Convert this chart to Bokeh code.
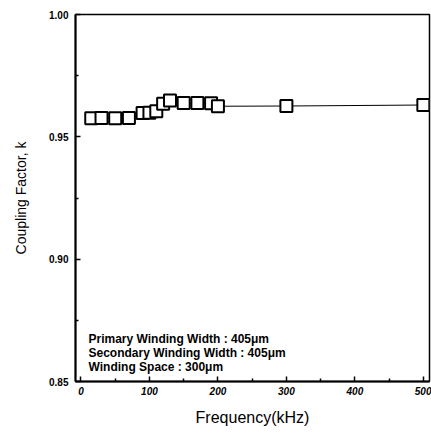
from bokeh.plotting import figure
from bokeh.models import Range1d, FixedTicker, Label, CustomJSTickFormatter
from bokeh.embed import file_html
from bokeh.resources import INLINE

freq_khz = [15, 30, 50, 70, 90, 100, 110, 120, 130, 150, 170, 190, 200, 300, 500]
coupling_k = [0.9576, 0.9577, 0.9576, 0.9577, 0.9597, 0.9598, 0.9605, 0.9635,
              0.9648, 0.9638, 0.9638, 0.9637, 0.9625, 0.9626, 0.9630]
x_ticks = [0, 100, 200, 300, 400, 500]
x_minor = [50, 150, 250, 350, 450]
y_ticks = [0.85, 0.90, 0.95, 1.00]
y_minor = [0.875, 0.925, 0.975]
notes = ["Primary Winding Width : 405\u03bcm",
         "Secondary Winding Width : 405\u03bcm",
         "Winding Space : 300\u03bcm"]
note_y = [0.8675, 0.8618, 0.8561]

FONT = "Liberation Sans"

p = figure(width=431, height=428, output_backend="svg", toolbar_location=None,
           x_range=Range1d(-8, 509), y_range=Range1d(0.85, 1.00),
           min_border_left=75, min_border_right=2, min_border_top=14, min_border_bottom=47)
p.grid.visible = False
p.outline_line_color = "black"
p.outline_line_width = 1.5
p.background_fill_color = "white"
p.border_fill_color = "white"

p.line(freq_khz, coupling_k, line_color="black", line_width=1)
p.scatter(freq_khz, coupling_k, marker="square", size=12, fill_color="white",
          line_color="black", line_width=2)

for ax in (p.xaxis[0], p.yaxis[0]):
    ax.axis_line_width = 2
    ax.axis_line_color = "black"
    ax.major_tick_in = 5
    ax.major_tick_out = 0
    ax.minor_tick_in = 3
    ax.minor_tick_out = 0
    ax.major_tick_line_width = 1.5
    ax.minor_tick_line_width = 1.5
    ax.major_label_text_font = FONT
    ax.major_label_text_font_style = "bold"
    ax.major_label_text_font_size = "10px"
    ax.major_label_text_color = "black"
    ax.axis_label_text_font = FONT
    ax.axis_label_text_font_style = "normal"
    ax.axis_label_text_color = "black"

p.xaxis[0].ticker = FixedTicker(ticks=x_ticks, minor_ticks=x_minor)
p.yaxis[0].ticker = FixedTicker(ticks=y_ticks, minor_ticks=y_minor)
p.xaxis[0].major_label_text_font_style = "bold italic"
p.xaxis[0].major_label_standoff = 5
p.yaxis[0].major_label_standoff = 7
p.yaxis[0].formatter = CustomJSTickFormatter(code="return tick.toFixed(2);")
p.xaxis[0].axis_label = "Frequency(kHz)"
p.yaxis[0].axis_label = "Coupling Factor, k"
p.xaxis[0].axis_label_text_font_size = "16px"
p.yaxis[0].axis_label_text_font_size = "14px"
p.xaxis[0].axis_label_standoff = 11
p.yaxis[0].axis_label_standoff = 17

for txt, yy in zip(notes, note_y):
    p.add_layout(Label(x=11, y=yy, text=txt, text_font=FONT, text_font_size="12px",
                       text_font_style="bold", text_color="black", text_baseline="middle"))

open("out.html", "w").write(file_html(p, INLINE))
